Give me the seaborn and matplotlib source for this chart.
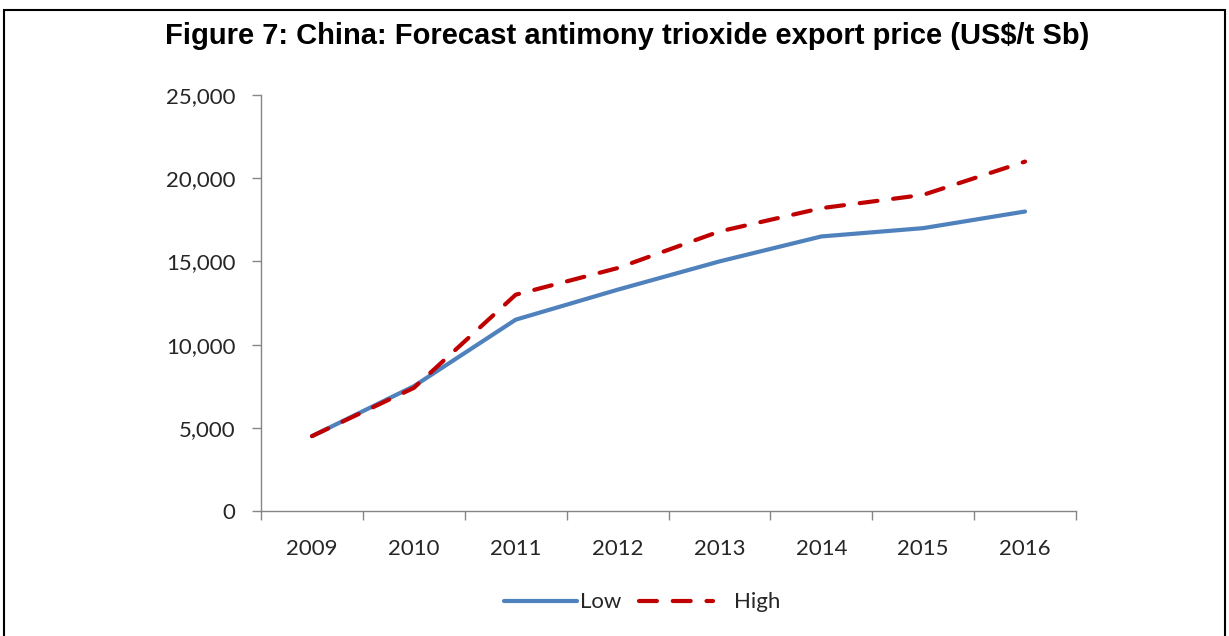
import numpy as np
import pandas as pd
import matplotlib.pyplot as plt
import matplotlib
import seaborn as sns
from matplotlib.patches import Rectangle

# data
years = ['2009', '2010', '2011', '2012', '2013', '2014', '2015', '2016']
low = [4500, 7500, 11500, 13300, 15000, 16500, 17000, 18000]
high = [4500, 7400, 13000, 14600, 16800, 18200, 19000, 21000]
y_ticks = [0, 5000, 10000, 15000, 20000, 25000]

sns.set_theme(style="white")
plt.rcParams['font.family'] = ['Lato', 'DejaVu Sans']

data = pd.DataFrame({'year': years, 'Low': low, 'High': high})

fig = plt.figure(figsize=(12.29, 6.36), dpi=100)
ax = fig.add_axes([0.2124, 0.1965, 0.6631, 0.6541])

sns.lineplot(data=data, x='year', y='Low', ax=ax, color='#4F81BD', lw=3, label='Low', sort=False)
sns.lineplot(data=data, x='year', y='High', ax=ax, color='#C00000', lw=3, label='High', sort=False)
ax.get_lines()[1].set_dashes([4.3, 3.8])
ax.get_lines()[0].set_solid_capstyle('round')
ax.get_lines()[1].set_dash_capstyle('round')

ax.set_xlim(-0.5, len(years) - 0.5)
ax.set_ylim(0, 25000)
ax.set_yticks(y_ticks)
ax.yaxis.set_major_formatter(matplotlib.ticker.FuncFormatter(lambda v, p: f'{int(v):,}'))
ax.set_xlabel('')
ax.set_ylabel('')

# tick marks between categories, labels in the middle
ax.set_xticks(np.arange(len(years)))
ax.set_xticklabels(years)
ax.set_xticks(np.arange(len(years) + 1) - 0.5, minor=True)
ax.tick_params(axis='x', which='major', length=0, pad=20, labelsize=16, labelcolor='#262626')
ax.tick_params(axis='x', which='minor', length=6.5, width=1, color='#868686', direction='out', bottom=True)
ax.tick_params(axis='y', length=6.5, width=1, color='#868686', direction='out', left=True, pad=12,
               labelsize=16, labelcolor='#262626')

for s in ['top', 'right']:
    ax.spines[s].set_visible(False)
for s in ['left', 'bottom']:
    ax.spines[s].set_color('#868686')
    ax.spines[s].set_linewidth(1)

leg = ax.legend(loc='center', bbox_to_anchor=(0.515, 0.053), bbox_transform=fig.transFigure,
                ncol=2, frameon=False, fontsize=16, handlelength=3.3, handletextpad=0.15,
                columnspacing=0.8, labelcolor='#262626')
# excel leaves a wider gap before the second label
leg.get_texts()[1].set_x(18)

fig.text(0.51, 0.943, 'Figure 7: China: Forecast antimony trioxide export price (US$/t Sb)',
         ha='center', va='center', fontsize=21, fontweight='bold', color='black',
         family=['Liberation Sans', 'DejaVu Sans'])

# frame around the figure
fig.patches.append(Rectangle((0.0033, -0.05), 0.9935, 1.034, transform=fig.transFigure,
                             fill=False, ec='black', lw=1.5))

plt.savefig('out.png', dpi=100)
